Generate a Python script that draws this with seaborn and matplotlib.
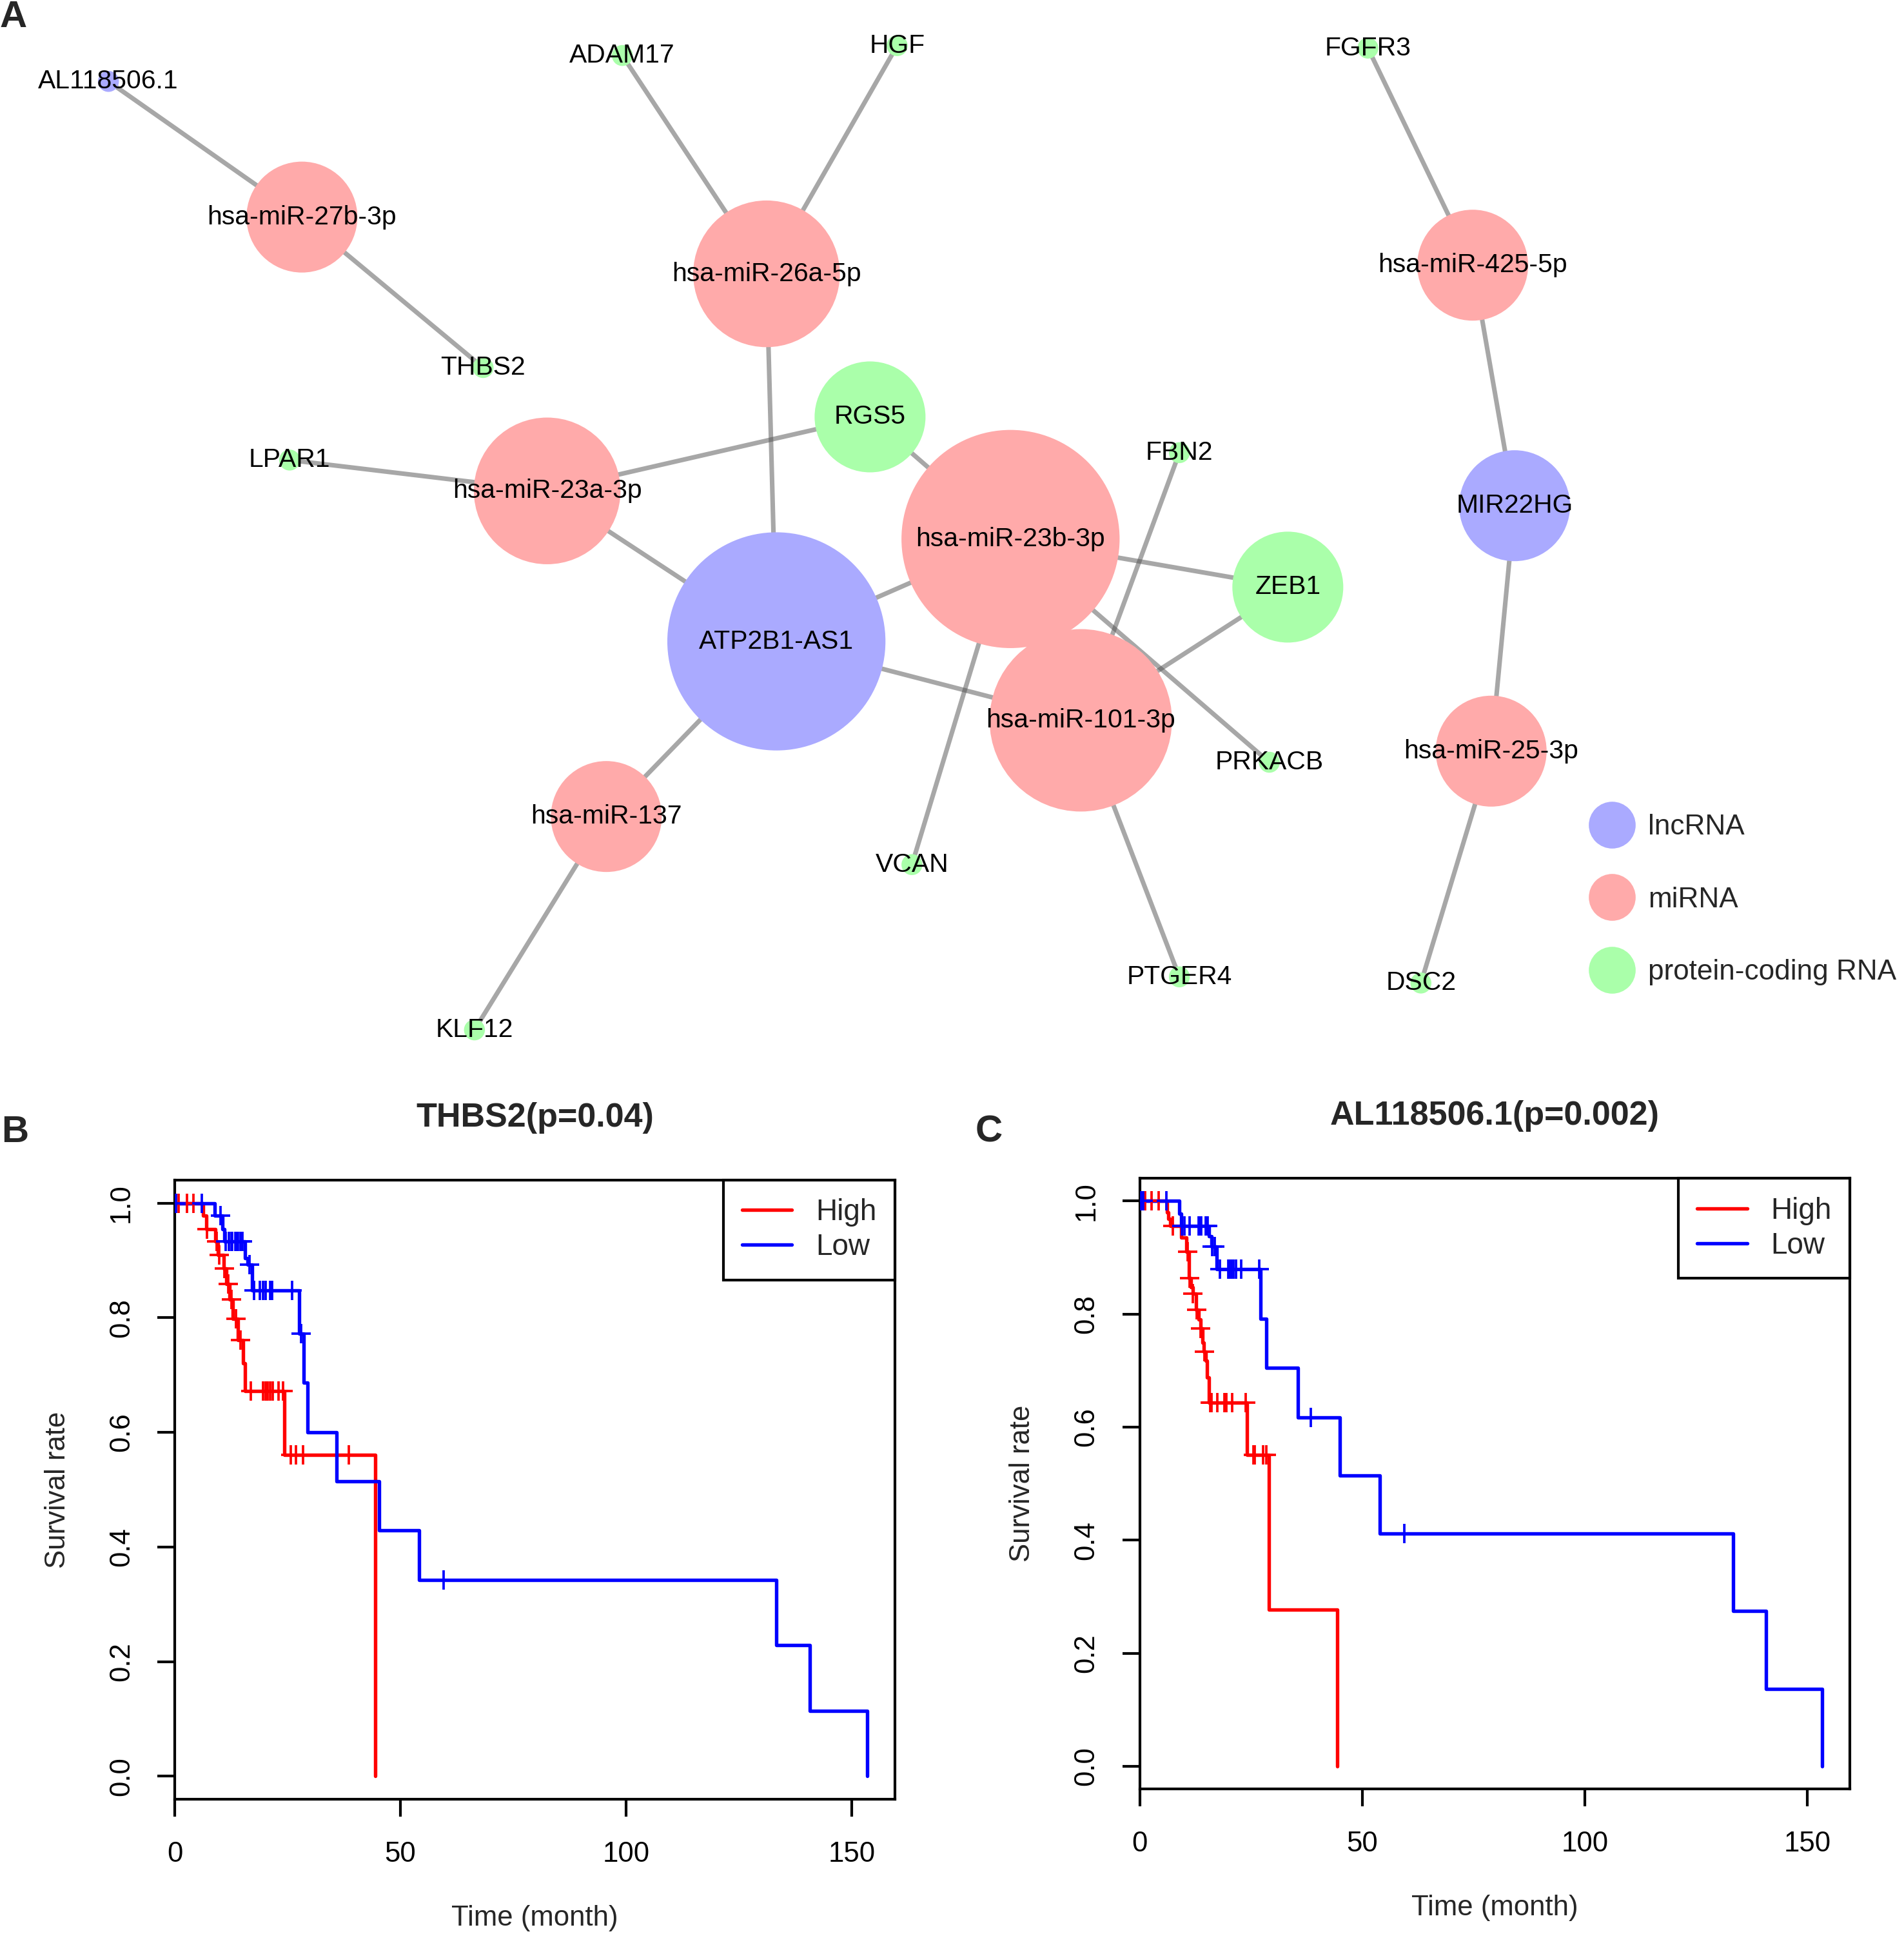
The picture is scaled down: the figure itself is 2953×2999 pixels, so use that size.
import matplotlib
matplotlib.use('Agg')
import matplotlib.pyplot as plt
from matplotlib.lines import Line2D
import seaborn as sns
import pandas as pd
import numpy as np

# ---------------- data: ceRNA network (panel A) ----------------
node_names = ['AL118506.1', 'hsa-miR-27b-3p', 'THBS2', 'ADAM17', 'HGF', 'hsa-miR-26a-5p',
              'RGS5', 'LPAR1', 'hsa-miR-23a-3p', 'ATP2B1-AS1', 'hsa-miR-23b-3p', 'FBN2',
              'ZEB1', 'hsa-miR-101-3p', 'PRKACB', 'hsa-miR-137', 'VCAN', 'KLF12', 'PTGER4',
              'FGFR3', 'hsa-miR-425-5p', 'MIR22HG', 'hsa-miR-25-3p', 'DSC2']
node_type = ['lncRNA', 'miRNA', 'protein-coding RNA', 'protein-coding RNA', 'protein-coding RNA',
             'miRNA', 'protein-coding RNA', 'protein-coding RNA', 'miRNA', 'lncRNA', 'miRNA',
             'protein-coding RNA', 'protein-coding RNA', 'miRNA', 'protein-coding RNA', 'miRNA',
             'protein-coding RNA', 'protein-coding RNA', 'protein-coding RNA', 'protein-coding RNA',
             'miRNA', 'lncRNA', 'miRNA', 'protein-coding RNA']
# layout coordinates
node_x = [88, 245, 392, 505, 728, 622, 706, 235, 444, 630, 820, 957, 1045, 877, 1030, 492,
          740, 385, 957, 1110, 1195, 1229, 1210, 1153]
node_y = [66, 176, 298, 45, 37, 222, 338, 373, 398, 520, 437, 367, 476, 584, 618, 662,
          701, 835, 792, 39, 215, 410, 609, 797]
edges = [('AL118506.1', 'hsa-miR-27b-3p'), ('hsa-miR-27b-3p', 'THBS2'),
         ('ADAM17', 'hsa-miR-26a-5p'), ('HGF', 'hsa-miR-26a-5p'),
         ('hsa-miR-26a-5p', 'ATP2B1-AS1'), ('LPAR1', 'hsa-miR-23a-3p'),
         ('hsa-miR-23a-3p', 'RGS5'), ('hsa-miR-23a-3p', 'ATP2B1-AS1'),
         ('RGS5', 'hsa-miR-23b-3p'), ('ATP2B1-AS1', 'hsa-miR-23b-3p'),
         ('ATP2B1-AS1', 'hsa-miR-101-3p'), ('ATP2B1-AS1', 'hsa-miR-137'),
         ('hsa-miR-137', 'KLF12'), ('FBN2', 'hsa-miR-101-3p'),
         ('hsa-miR-23b-3p', 'ZEB1'), ('hsa-miR-101-3p', 'ZEB1'),
         ('hsa-miR-23b-3p', 'PRKACB'), ('hsa-miR-23b-3p', 'VCAN'),
         ('hsa-miR-101-3p', 'PTGER4'), ('FGFR3', 'hsa-miR-425-5p'),
         ('hsa-miR-425-5p', 'MIR22HG'), ('MIR22HG', 'hsa-miR-25-3p'),
         ('hsa-miR-25-3p', 'DSC2')]
type_order = ['lncRNA', 'miRNA', 'protein-coding RNA']

# ---------------- data: survival curves (panels B, C) ----------------
thbs2_high_time = [0, 6.3, 7.0, 9.0, 9.6, 10.8, 11.4, 12.2, 12.9, 14.0, 15.1, 15.6, 24.3, 44.5]
thbs2_high_surv = [1.0, 0.978, 0.955, 0.933, 0.910, 0.886, 0.859, 0.832, 0.798, 0.761, 0.720,
                   0.672, 0.561, 0.0]
thbs2_high_cens = [0.8, 2.7, 4.2, 7.2, 9.3, 9.9, 11.0, 11.8, 12.6, 13.6, 14.5, 16.9, 19.5, 20.1,
                   20.5, 21.1, 21.7, 23.0, 24.0, 25.7, 26.9, 28.4, 38.6]
thbs2_low_time = [0, 8.8, 10.6, 11.0, 15.6, 16.2, 17.2, 27.5, 28.5, 29.4, 35.8, 45.3, 54.1,
                  133.3, 140.8, 153.4]
thbs2_low_surv = [1.0, 0.978, 0.955, 0.933, 0.904, 0.893, 0.848, 0.772, 0.687, 0.600, 0.515,
                  0.429, 0.343, 0.229, 0.114, 0.0]
thbs2_low_cens = [0.3, 6.0, 10.1, 11.3, 12.0, 12.5, 12.7, 13.4, 13.7, 14.0, 14.6, 15.0, 16.5,
                  17.5, 18.9, 19.6, 20.1, 21.1, 21.5, 26.0, 28.0, 59.6]

al_high_time = [0, 6.1, 6.4, 6.9, 9.3, 10.5, 11.0, 11.5, 11.9, 12.7, 13.2, 13.6, 14.1, 14.4,
                14.8, 15.1, 15.6, 24.1, 29.1, 44.4]
al_high_surv = [1.0, 0.980, 0.968, 0.956, 0.935, 0.910, 0.863, 0.848, 0.836, 0.808, 0.791,
                0.775, 0.749, 0.734, 0.718, 0.688, 0.643, 0.551, 0.277, 0.0]
al_high_cens = [1.2, 2.7, 4.2, 7.4, 10.7, 11.2, 12.0, 12.8, 13.7, 14.5, 15.9, 16.2, 17.5, 19.1,
                19.4, 20.7, 23.8, 25.6, 25.9, 27.7, 28.4]
al_low_time = [0, 8.9, 9.3, 15.6, 16.1, 17.3, 27.2, 28.4, 35.6, 45.0, 54.0, 133.4, 140.7, 153.4]
al_low_surv = [1.0, 0.978, 0.956, 0.938, 0.919, 0.880, 0.792, 0.705, 0.617, 0.514, 0.412,
               0.275, 0.137, 0.0]
al_low_cens = [0.35, 0.74, 6.05, 9.5, 10.1, 11.2, 13.2, 13.4, 13.8, 14.8, 15.3, 16.3, 16.8,
               18.0, 19.9, 20.2, 20.6, 21.1, 21.6, 22.8, 26.8, 38.5, 59.5]

x_ticks = [0, 50, 100, 150]
y_ticks = [0.0, 0.2, 0.4, 0.6, 0.8, 1.0]

# ---------------- style ----------------
sns.set_theme(style='white')
plt.rcParams['font.family'] = ['Liberation Sans', 'DejaVu Sans']

W, H = 2953 / 300, 2999 / 300
fig = plt.figure(figsize=(W, H), dpi=300)

node_pal = {'lncRNA': '#AAAAFF', 'miRNA': '#FFAAAA', 'protein-coding RNA': '#AAFFAA'}

# ---------------- panel A ----------------
net_h = 880 / 1568
ax_a = fig.add_axes([0, 1 - net_h, 1, net_h])
ax_a.set_xlim(0, 1545)
ax_a.set_ylim(880, 0)
ax_a.axis('off')
pt_per_unit = W * 72 / 1545

nodes = pd.DataFrame({'name': node_names, 'type': node_type, 'x': node_x, 'y': node_y})
deg = {n: 0 for n in node_names}
for a, b in edges:
    deg[a] += 1
    deg[b] += 1
nodes['degree'] = nodes['name'].map(deg)
# node size follows the degree
nodes['radius'] = np.where(nodes['degree'] > 1, 14.5 * nodes['degree'] + 16, 8.5)
pos = nodes.set_index('name')

for a, b in edges:
    ax_a.plot([pos.loc[a, 'x'], pos.loc[b, 'x']], [pos.loc[a, 'y'], pos.loc[b, 'y']],
              color='#505050', alpha=0.5, lw=1.7, solid_capstyle='butt', zorder=1)

sns.scatterplot(data=nodes, x='x', y='y', hue='type', palette=node_pal, hue_order=type_order,
                s=(2 * nodes['radius'] * pt_per_unit) ** 2, linewidth=0, alpha=1,
                legend=False, ax=ax_a, zorder=2)
for _, r in nodes.iterrows():
    ax_a.text(r['x'], r['y'], r['name'], ha='center', va='center', fontsize=9.8,
              color='black', zorder=3)

handles = [Line2D([], [], ls='', marker='o', markersize=2 * 19 * pt_per_unit,
                  markerfacecolor=node_pal[t], markeredgewidth=0) for t in type_order]
ax_a.legend(handles, type_order, loc='upper left', bbox_to_anchor=(1293.5, 660),
            bbox_transform=ax_a.transData, frameon=False, fontsize=10.6, handlelength=1.25,
            handletextpad=0.65, labelspacing=1.62, borderpad=0, borderaxespad=0)


# ---------------- panels B, C ----------------
def step_value(times, surv, t):
    idx = np.searchsorted(times, t, side='right') - 1
    return np.asarray(surv)[idx]


def plot_km(ax, curves, title):
    for label, t, s, cens, color in curves:
        df = pd.DataFrame({'time': t, 'surv': s})
        sns.lineplot(data=df, x='time', y='surv', drawstyle='steps-post', estimator=None,
                     sort=False, color=color, lw=1.3, ax=ax)
        # censored patients as "+" on the curve
        cy = step_value(t, s, np.asarray(cens))
        sns.scatterplot(x=cens, y=cy, marker='+', s=50, color=color, linewidth=0.9,
                        legend=False, ax=ax, zorder=3)
    ax.set_xlim(0, 159.6)
    ax.set_ylim(-0.04, 1.04)
    ax.set_xticks(x_ticks)
    ax.set_xticklabels([str(v) for v in x_ticks])
    ax.set_yticks(y_ticks)
    ax.set_yticklabels([f'{v:.1f}' for v in y_ticks])
    for lab in ax.get_yticklabels():
        lab.set_rotation(90)
        lab.set_va('center')
    ax.tick_params(axis='both', direction='out', length=6.5, width=1, colors='black',
                   labelsize=10.5, bottom=True, left=True)
    ax.tick_params(axis='x', pad=9)
    ax.tick_params(axis='y', pad=8.4)
    for sp in ax.spines.values():
        sp.set_color('black')
        sp.set_linewidth(1)
    ax.set_title(title, fontsize=12.5, fontweight='bold', pad=20)
    bb = ax.get_position()
    w_pt = bb.width * W * 72
    h_pt = bb.height * H * 72
    ax.set_xlabel('Time (month)', fontsize=10.5)
    ax.set_ylabel('Survival rate', fontsize=10.5)
    ax.xaxis.label.set_va('center')
    ax.yaxis.label.set_va('center')
    ax.xaxis.set_label_coords(0.5, -44.3 / h_pt)
    ax.yaxis.set_label_coords(-43.6 / w_pt, 0.5)
    lh = [Line2D([], [], color=c[4], lw=1.3) for c in curves]
    leg = ax.legend(lh, [c[0] for c in curves], loc='upper right', borderaxespad=0,
                    fancybox=False, edgecolor='black', framealpha=1, fontsize=11,
                    handlelength=1.7, handletextpad=0.8, borderpad=0.62, labelspacing=0.22)
    leg.get_frame().set_linewidth(1)


ax_b = fig.add_axes([0.0918, 0.0697, 0.3782, 0.3201])
plot_km(ax_b, [('High', thbs2_high_time, thbs2_high_surv, thbs2_high_cens, '#FF0000'),
               ('Low', thbs2_low_time, thbs2_low_surv, thbs2_low_cens, '#0000FF')],
        'THBS2(p=0.04)')

ax_c = fig.add_axes([0.5986, 0.075, 0.373, 0.3157])
plot_km(ax_c, [('High', al_high_time, al_high_surv, al_high_cens, '#FF0000'),
               ('Low', al_low_time, al_low_surv, al_low_cens, '#0000FF')],
        'AL118506.1(p=0.002)')

# panel letters
fig.text(0.0071, 0.991, 'A', fontsize=14, fontweight='bold', ha='center', va='center')
fig.text(0.0078, 0.4145, 'B', fontsize=14, fontweight='bold', ha='center', va='center')
fig.text(0.5195, 0.4145, 'C', fontsize=14, fontweight='bold', ha='center', va='center')

fig.savefig('out.png', dpi=300)
